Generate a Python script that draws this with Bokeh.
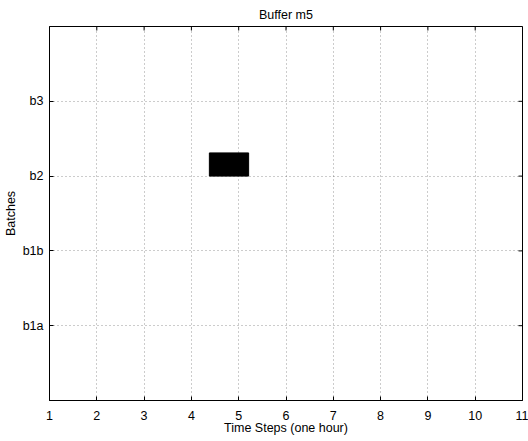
import math
from bokeh.plotting import figure
from bokeh.models import FixedTicker, Range1d, ColumnDataSource
from bokeh.embed import file_html
from bokeh.resources import INLINE

# Data
batch_labels = ["b1a", "b1b", "b2", "b3"]
batch_pos = [1, 2, 3, 4]
time_ticks = [1, 2, 3, 4, 5, 6, 7, 8, 9, 10, 11]
bar_batch = ["b2"]
bar_start = [4.38]
bar_end = [5.21]
bar_level = [0.31]
x_min, x_max = 1, 11
y_min, y_max = 0, 5

pos_of = dict(zip(batch_labels, batch_pos))
src = ColumnDataSource(dict(
    left=bar_start,
    right=bar_end,
    bottom=[pos_of[b] for b in bar_batch],
    top=[pos_of[b] + h for b, h in zip(bar_batch, bar_level)],
))

FONT = "Liberation Sans"
FS = "12.5px"

p = figure(width=528, height=441, output_backend="svg", toolbar_location=None,
           x_range=Range1d(x_min, x_max), y_range=Range1d(y_min, y_max),
           min_border_left=49, min_border_right=6, min_border_top=26, min_border_bottom=41,
           title="Buffer m5")
p.background_fill_color = "white"
p.border_fill_color = "white"
p.outline_line_color = "black"
p.outline_line_width = 1

p.title.align = "center"
p.title.text_font = FONT
p.title.text_font_size = FS
p.title.text_font_style = "normal"
p.title.text_color = "black"
p.title.standoff = 10

for g in [p.xgrid[0], p.ygrid[0]]:
    g.grid_line_color = "black"
    g.grid_line_alpha = 0.4
    g.grid_line_dash = "1 3"
    g.grid_line_width = 1
p.ygrid[0].ticker = FixedTicker(ticks=batch_pos)
p.xgrid[0].ticker = FixedTicker(ticks=time_ticks)

p.quad(left="left", right="right", bottom="bottom", top="top", source=src,
       fill_color="black", line_color="black")

# inward box ticks on the top and right edges (half of each dash is clipped by the frame)
p.scatter(x=time_ticks, y=[y_max] * len(time_ticks), marker="dash", size=8,
          angle=math.pi / 2, line_color="black", line_width=1)
p.scatter(x=[x_max] * len(batch_pos), y=batch_pos, marker="dash", size=8,
          line_color="black", line_width=1)

# axes
for ax in [p.xaxis[0], p.yaxis[0]]:
    ax.major_tick_in = 4
    ax.major_tick_out = 0
    ax.minor_tick_line_color = None
    ax.axis_line_color = "black"
    ax.major_tick_line_color = "black"
    ax.major_label_text_font = FONT
    ax.major_label_text_font_size = FS
    ax.major_label_text_color = "black"
    ax.axis_label_text_font = FONT
    ax.axis_label_text_font_size = FS
    ax.axis_label_text_font_style = "normal"
    ax.axis_label_text_color = "black"

p.xaxis[0].ticker = FixedTicker(ticks=time_ticks)
p.xaxis[0].axis_label = "Time Steps (one hour)"
p.xaxis[0].major_label_standoff = 10
p.xaxis[0].axis_label_standoff = -2

p.yaxis[0].ticker = FixedTicker(ticks=batch_pos)
p.yaxis[0].major_label_overrides = {k: v for k, v in zip(batch_pos, batch_labels)}
p.yaxis[0].axis_label = "Batches"
p.yaxis[0].major_label_standoff = 6
p.yaxis[0].axis_label_standoff = 2

open("out.html", "w").write(file_html(p, INLINE))
